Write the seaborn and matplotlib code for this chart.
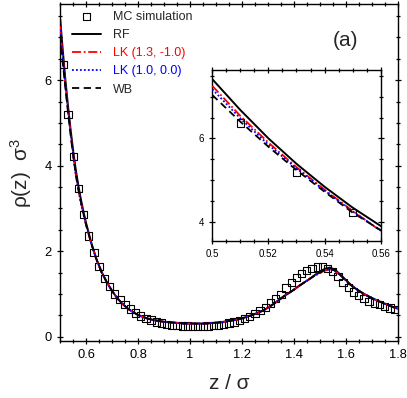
import matplotlib
matplotlib.use("Agg")
import matplotlib.pyplot as plt
from matplotlib.ticker import MultipleLocator, FuncFormatter
import seaborn as sns

# z grid of the theory curves (z / sigma)
z_curve = [0.50, 0.51, 0.52, 0.53, 0.54, 0.55, 0.56, 0.57, 0.58, 0.59, 0.60,
           0.62, 0.64, 0.66, 0.68, 0.70, 0.72, 0.74, 0.76, 0.78, 0.80,
           0.82, 0.84, 0.86, 0.88, 0.90, 0.92, 0.94, 0.96, 0.98, 1.00,
           1.02, 1.04, 1.06, 1.08, 1.10, 1.12, 1.14, 1.16, 1.18, 1.20,
           1.22, 1.24, 1.26, 1.28, 1.30, 1.32, 1.34, 1.36, 1.38, 1.40,
           1.42, 1.44, 1.46, 1.48, 1.50, 1.52, 1.54, 1.56, 1.58, 1.60,
           1.62, 1.64, 1.66, 1.68, 1.70, 1.72, 1.74, 1.76, 1.78, 1.80]

rho_rf = [7.42, 6.68, 6.00, 5.39, 4.84, 4.34, 3.90, 3.53, 3.20, 2.91, 2.65,
          2.19, 1.81, 1.51, 1.27, 1.07, 0.90, 0.77, 0.66, 0.58, 0.51,
          0.46, 0.42, 0.39, 0.37, 0.35, 0.34, 0.33, 0.32, 0.31, 0.31,
          0.31, 0.31, 0.31, 0.32, 0.33, 0.34, 0.36, 0.38, 0.40, 0.43,
          0.47, 0.51, 0.56, 0.61, 0.68, 0.76, 0.85, 0.94, 1.02, 1.10,
          1.19, 1.27, 1.35, 1.44, 1.52, 1.59, 1.62, 1.56, 1.45, 1.33,
          1.21, 1.12, 1.04, 0.97, 0.91, 0.85, 0.80, 0.75, 0.70, 0.66]

rho_lk13 = [7.26, 6.54, 5.90, 5.31, 4.77, 4.26, 3.78, 3.43, 3.13, 2.86, 2.61,
            2.17, 1.80, 1.50, 1.27, 1.07, 0.90, 0.77, 0.66, 0.58, 0.51,
            0.46, 0.42, 0.39, 0.37, 0.35, 0.34, 0.33, 0.32, 0.31, 0.31,
            0.31, 0.31, 0.31, 0.32, 0.33, 0.34, 0.36, 0.38, 0.40, 0.43,
            0.47, 0.51, 0.56, 0.61, 0.68, 0.76, 0.85, 0.94, 1.02, 1.10,
            1.19, 1.27, 1.35, 1.43, 1.49, 1.55, 1.58, 1.53, 1.44, 1.32,
            1.21, 1.12, 1.04, 0.97, 0.91, 0.85, 0.80, 0.75, 0.70, 0.66]

rho_lk10 = [7.18, 6.48, 5.85, 5.28, 4.75, 4.25, 3.79, 3.44, 3.13, 2.86, 2.61,
            2.17, 1.80, 1.50, 1.27, 1.07, 0.90, 0.77, 0.66, 0.58, 0.51,
            0.46, 0.42, 0.39, 0.37, 0.35, 0.34, 0.33, 0.32, 0.31, 0.31,
            0.31, 0.31, 0.31, 0.32, 0.33, 0.34, 0.36, 0.38, 0.40, 0.43,
            0.47, 0.51, 0.56, 0.61, 0.68, 0.76, 0.85, 0.94, 1.02, 1.10,
            1.19, 1.27, 1.35, 1.43, 1.49, 1.55, 1.58, 1.53, 1.44, 1.32,
            1.21, 1.12, 1.04, 0.97, 0.91, 0.85, 0.80, 0.75, 0.70, 0.66]

rho_wb = [7.04, 6.40, 5.80, 5.24, 4.72, 4.22, 3.80, 3.45, 3.14, 2.86, 2.61,
          2.17, 1.80, 1.50, 1.27, 1.07, 0.90, 0.77, 0.66, 0.58, 0.51,
          0.46, 0.42, 0.39, 0.37, 0.35, 0.34, 0.33, 0.32, 0.31, 0.31,
          0.31, 0.31, 0.31, 0.32, 0.33, 0.34, 0.36, 0.38, 0.40, 0.43,
          0.47, 0.51, 0.56, 0.61, 0.68, 0.76, 0.85, 0.94, 1.02, 1.10,
          1.19, 1.27, 1.35, 1.43, 1.50, 1.57, 1.60, 1.54, 1.44, 1.32,
          1.21, 1.12, 1.04, 0.97, 0.91, 0.85, 0.80, 0.75, 0.70, 0.66]

# Monte Carlo histogram
z_mc = [0.51, 0.53, 0.55, 0.57, 0.59, 0.61, 0.63, 0.65, 0.67, 0.69,
        0.71, 0.73, 0.75, 0.77, 0.79, 0.81, 0.83, 0.85, 0.87, 0.89,
        0.91, 0.93, 0.95, 0.97, 0.99, 1.01, 1.03, 1.05, 1.07, 1.09,
        1.11, 1.13, 1.15, 1.17, 1.19, 1.21, 1.23, 1.25, 1.27, 1.29,
        1.31, 1.33, 1.35, 1.37, 1.39, 1.41, 1.43, 1.45, 1.47, 1.49,
        1.51, 1.53, 1.55, 1.57, 1.59, 1.61, 1.63, 1.65, 1.67, 1.69,
        1.71, 1.73, 1.75, 1.77, 1.79]
rho_mc = [6.37, 5.19, 4.22, 3.47, 2.86, 2.36, 1.97, 1.64, 1.37, 1.17,
          1.00, 0.87, 0.75, 0.65, 0.56, 0.49, 0.43, 0.39, 0.35, 0.32,
          0.29, 0.27, 0.26, 0.25, 0.25, 0.24, 0.24, 0.24, 0.25, 0.26,
          0.27, 0.29, 0.32, 0.35, 0.38, 0.43, 0.48, 0.54, 0.61, 0.69,
          0.79, 0.89, 0.99, 1.14, 1.27, 1.39, 1.48, 1.55, 1.60, 1.63,
          1.64, 1.60, 1.53, 1.41, 1.27, 1.16, 1.05, 0.96, 0.89, 0.83,
          0.79, 0.75, 0.71, 0.67, 0.64]

main_xticks = [0.6, 0.8, 1.0, 1.2, 1.4, 1.6, 1.8]
main_yticks = [0, 2, 4, 6]
inset_xticks = [0.50, 0.52, 0.54, 0.56]
inset_yticks = [4, 6]

sns.set_style("ticks")
plt.rcParams["font.family"] = ["Liberation Sans", "DejaVu Sans"]
plt.rcParams["mathtext.fontset"] = "custom"
plt.rcParams["mathtext.rm"] = "Liberation Sans"
plt.rcParams["mathtext.it"] = "Liberation Sans"


def draw_curves(ax, with_labels):
    sns.scatterplot(x=z_mc, y=rho_mc, ax=ax, marker="s", s=28,
                    facecolor="none", edgecolor="black", linewidth=0.8,
                    label="MC simulation" if with_labels else None, zorder=2)
    sns.lineplot(x=z_curve, y=rho_rf, ax=ax, color="black", linewidth=1.4,
                 label="RF" if with_labels else None, zorder=3)
    sns.lineplot(x=z_curve, y=rho_lk13, ax=ax, color="red", linewidth=1.3,
                 label="LK (1.3, -1.0)" if with_labels else None, zorder=4)
    sns.lineplot(x=z_curve, y=rho_lk10, ax=ax, color="blue", linewidth=1.3,
                 label="LK (1.0, 0.0)" if with_labels else None, zorder=5)
    sns.lineplot(x=z_curve, y=rho_wb, ax=ax, color="black", linewidth=1.3,
                 label="WB" if with_labels else None, zorder=6)
    lines = ax.get_lines()
    lines[1].set_linestyle((0, (5, 1.5, 1, 1.5)))
    lines[2].set_linestyle((0, (1, 1.2)))
    lines[3].set_linestyle((0, (4, 2.5)))


def style_ticks(ax, size, major_len, minor_len):
    ax.tick_params(which="both", direction="inout", top=True, right=True,
                   width=0.9, labelsize=size, colors="black")
    ax.tick_params(which="major", length=major_len)
    ax.tick_params(which="minor", length=minor_len)
    ax.xaxis.set_major_formatter(FuncFormatter(lambda v, p: f"{v:g}"))
    ax.yaxis.set_major_formatter(FuncFormatter(lambda v, p: f"{v:g}"))
    for sp in ax.spines.values():
        sp.set_visible(True)
        sp.set_linewidth(1.0)
        sp.set_color("black")


fig = plt.figure(figsize=(4.07, 3.98), dpi=100)
ax = fig.add_axes([0.148, 0.143, 0.829, 0.847])
draw_curves(ax, True)
ax.set_xlim(0.5, 1.8)
ax.set_ylim(-0.1, 7.78)
ax.set_xticks(main_xticks)
ax.set_yticks(main_yticks)
ax.xaxis.set_minor_locator(MultipleLocator(0.05))
ax.yaxis.set_minor_locator(MultipleLocator(0.5))
style_ticks(ax, 9.3, 5, 3.5)
ax.set_xlabel("z / σ", fontsize=15, labelpad=9)
ax.set_ylabel("ρ(z)  σ$^3$", fontsize=15, labelpad=8)
ax.text(0.845, 0.893, "(a)", transform=ax.transAxes, fontsize=15,
        ha="center", va="center")

leg = ax.legend(loc="upper left", bbox_to_anchor=(0.035, 0.98), frameon=False,
                fontsize=9, handlelength=2.3, handletextpad=1.0,
                labelspacing=0.5, borderpad=0, borderaxespad=0)
leg.get_texts()[2].set_color("red")
leg.get_texts()[3].set_color("blue")

ins = fig.add_axes([0.5216, 0.3945, 0.4138, 0.4296])
draw_curves(ins, False)
ins.set_xlim(0.5, 0.56)
ins.set_ylim(3.54, 7.64)
ins.set_xticks(inset_xticks)
ins.set_yticks(inset_yticks)
ins.xaxis.set_minor_locator(MultipleLocator(0.005))
ins.yaxis.set_minor_locator(MultipleLocator(0.5))
style_ticks(ins, 7, 4.5, 3)
ins.set_xlabel("")
ins.set_ylabel("")

fig.savefig("out.png", dpi=100)
